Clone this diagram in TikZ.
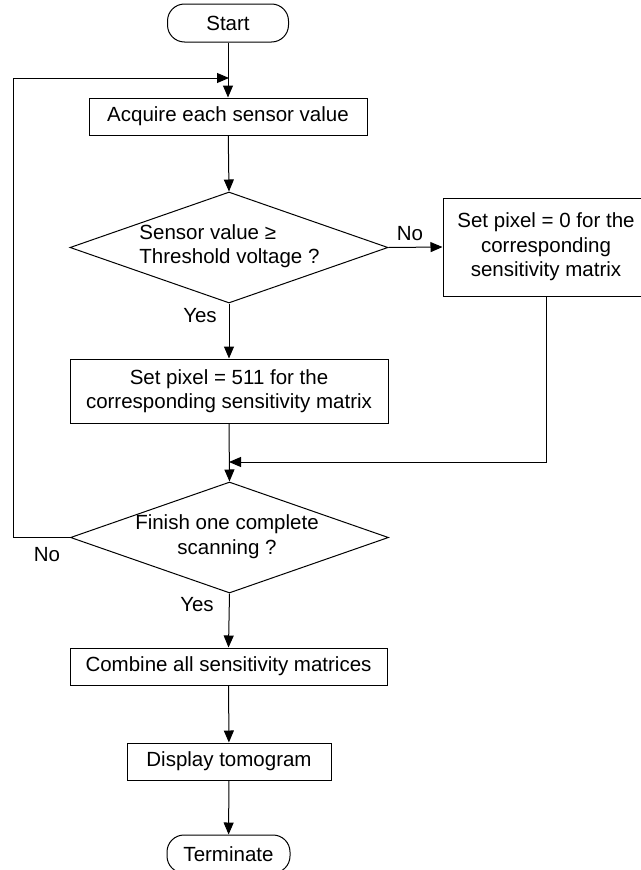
\documentclass[tikz,border=0pt]{standalone}
\usepackage{fontspec}
\setmainfont{Liberation Sans}
\usetikzlibrary{shapes.geometric,arrows.meta}
\tikzset{
  every node/.style={font=\fontsize{20.5}{24.5}\selectfont},
  conn/.style={line width=1pt,draw=black},
  arr/.style={conn,-{Triangle[length=12pt,width=10pt]}},
  procbox/.style={draw=black,line width=1pt,rectangle,inner sep=0pt,align=center},
  termbox/.style={draw=black,line width=1pt,rectangle,rounded corners=17pt,inner sep=0pt},
  decbox/.style={draw=black,line width=1pt,diamond,inner sep=0pt,aspect=2.86},
  plain/.style={inner sep=0pt}
}
\begin{document}
\begin{tikzpicture}[x=1pt,y=-1pt]
\useasboundingbox (0,0) rectangle (640,870);
\node[termbox,minimum width=121pt,minimum height=38pt] (start) at (228,23) {Start};
\node[procbox,minimum width=278pt,minimum height=37pt] (b1) at (228,116.5) {Acquire each sensor value};
\node[decbox,minimum width=318pt,minimum height=111pt] (d1) at (229,247.5) {};
\node[plain,align=left] (d1t) at (229.5,246) {Sensor value ≥\\Threshold voltage ?};
\node[procbox,minimum width=206pt,minimum height=98pt] (b2) at (546,247) {Set pixel = 0 for the\\corresponding\\sensitivity matrix};
\node[procbox,minimum width=318pt,minimum height=64pt] (b3) at (229,391) {Set pixel = 511 for the\\corresponding sensitivity matrix};
\node[decbox,minimum width=318pt,minimum height=111pt] (d2) at (229.5,537.5) {};
\node[plain,align=center] (d2t) at (227,536.5) {Finish one complete\\scanning ?};
\node[procbox,minimum width=317pt,minimum height=37pt] (b4) at (228.5,666.5) {Combine all sensitivity matrices};
\node[procbox,minimum width=204pt,minimum height=37pt] (b5) at (229,761.5) {Display tomogram};
\node[termbox,minimum width=123pt,minimum height=38pt] (term) at (228.5,854) {Terminate};
\node[plain] (no1) at (410,234) {No};
\node[plain] (yes1) at (200,316) {Yes};
\node[plain] (no2) at (47,555) {No};
\node[plain] (yes2) at (197,605) {Yes};
\coordinate (m) at (229,462);
\coordinate (lp) at (13,78);
\coordinate (lj) at (229,78);
\draw[arr] (start) -- (b1);
\draw[arr] (b1) -- (d1.north);
\draw[arr] (d1.east) -- (b2.west);
\draw[arr] (d1.south) -- (b3.north);
\draw[arr] (b3.south) -- (d2.north);
\draw[arr] (b2.south) |- (m);
\draw[arr] (d2.west) -| (lp) -- (lj);
\draw[arr] (d2.south) -- (b4.north);
\draw[arr] (b4) -- (b5);
\draw[arr] (b5) -- (term);
\end{tikzpicture}
\end{document}
